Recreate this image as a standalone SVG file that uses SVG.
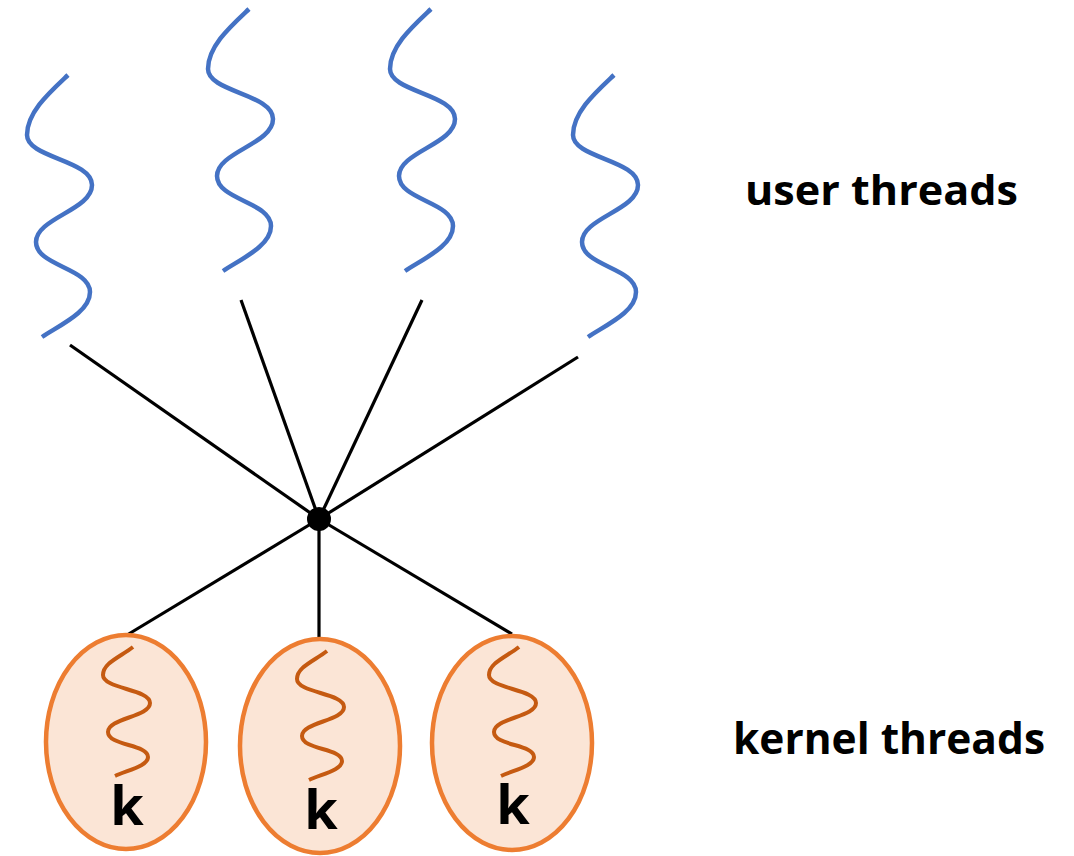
<svg xmlns="http://www.w3.org/2000/svg" xmlns:xlink="http://www.w3.org/1999/xlink" width="1074" height="856" viewBox="0 0 1074 856">
<style>
.uw{fill:none;stroke:#4472C4;stroke-width:4.5;stroke-linecap:butt}
.kw{fill:none;stroke:#C55A11;stroke-width:4}
.ell{fill:#FBE5D6;stroke:#ED7D31;stroke-width:4.5}
.con{stroke:#000;stroke-width:3.2;fill:none}
.lbl{font-family:"Open Sans",Lato,"Liberation Sans",sans-serif;font-weight:bold;fill:#000}
.k{font-family:"Open Sans",Lato,"Liberation Sans",sans-serif;font-weight:bold;font-size:54px;fill:#000;text-anchor:middle}
</style>
<defs>
<path id="uwave" class="uw" d="M68,75 C50,92 27,112 27,135 C27,158 92,160 92,185 C92,210 36,218 36,242 C36,266 90,268 90,292 C90,312 60,325 42,337"/>
<path id="kwave" class="kw" d="M133,647 C120,657 103,663 103,675 C103,689 150,689 150,703 C150,717 108,718 108,732 C108,746 148,744 148,757 C148,766 128,770 115,776"/>
</defs>
<rect width="1074" height="856" fill="#fff"/>
<g id="connectors">
<line class="con" x1="70" y1="345" x2="319" y2="519"/>
<line class="con" x1="241" y1="300" x2="319" y2="519"/>
<line class="con" x1="422" y1="300" x2="319" y2="519"/>
<line class="con" x1="578" y1="357" x2="319" y2="519"/>
<line class="con" x1="127" y1="635" x2="319" y2="519"/>
<line class="con" x1="319" y1="638" x2="319" y2="519"/>
<line class="con" x1="512" y1="634" x2="319" y2="519"/>
</g>
<g id="junction"><circle cx="319" cy="519" r="12" fill="#000"/></g>
<g id="user1"><use xlink:href="#uwave"/></g>
<g id="user2"><use xlink:href="#uwave" transform="translate(181,-66)"/></g>
<g id="user3"><use xlink:href="#uwave" transform="translate(363,-66)"/></g>
<g id="user4"><use xlink:href="#uwave" transform="translate(546,0)"/></g>
<g id="kernel1">
<ellipse class="ell" cx="126" cy="742" rx="80" ry="107"/>
<use xlink:href="#kwave"/>
<text class="k" x="127" y="825">k</text>
</g>
<g id="kernel2">
<ellipse class="ell" cx="320" cy="746" rx="80" ry="107"/>
<use xlink:href="#kwave" transform="translate(194,4)"/>
<text class="k" x="321" y="829">k</text>
</g>
<g id="kernel3">
<ellipse class="ell" cx="512" cy="743" rx="80" ry="107"/>
<use xlink:href="#kwave" transform="translate(386,0)"/>
<text class="k" x="513" y="824">k</text>
</g>
<g id="label-user"><text class="lbl" x="745" y="205" font-size="41" textLength="273" lengthAdjust="spacingAndGlyphs">user threads</text></g>
<g id="label-kernel"><text class="lbl" x="733" y="754" font-size="43" textLength="312" lengthAdjust="spacingAndGlyphs">kernel threads</text></g>
</svg>
